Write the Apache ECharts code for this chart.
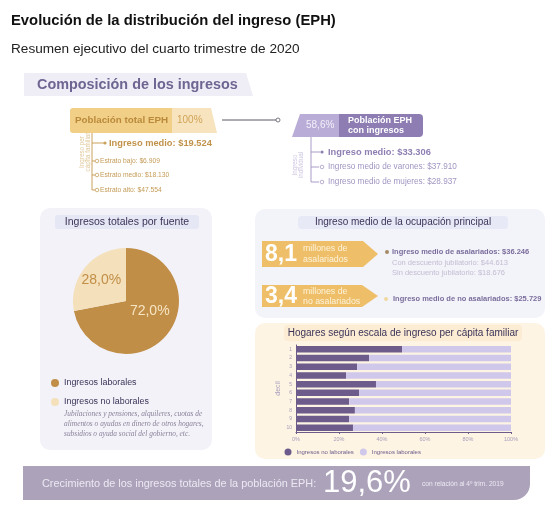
<!DOCTYPE html>
<html><head><meta charset="utf-8">
<script src="https://cdn.jsdelivr.net/npm/echarts@6/dist/echarts.min.js"></script>
<style>html,body{margin:0;padding:0;background:#fff}#c{width:555px;height:511px}</style>
</head><body><div id="c"></div>
<script>
// ---- data ----
const deciles = ['1','2','3','4','5','6','7','8','9','10'];
const noLaborales = [49.3, 34.0, 28.4, 23.3, 37.2, 29.3, 24.7, 27.4, 24.7, 26.5];
const laborales   = [50.7, 66.0, 71.6, 76.7, 62.8, 70.7, 75.3, 72.6, 75.3, 73.5];
const xTicks = [0, 20, 40, 60, 80, 100];
const pieNames = ['Ingresos laborales', 'Ingresos no laborales'];
const pieValues = [72.0, 28.0];

const F = '"Liberation Sans", Arial, sans-serif';
const SERIF = '"Liberation Serif", "DejaVu Serif", serif';
function txt(x, y, text, size, fill, opt) {
  opt = opt || {};
  return {type:'text', z: 10, x: opt.ex || 0, y: opt.ey || 0, rotation: opt.rot || 0,
    style:{x:x, y:y, text:text, fill:fill, font:(opt.style||'normal')+' '+(opt.weight||'normal')+' '+size+'px '+(opt.family||F),
      textAlign: opt.align||'left', textVerticalAlign: opt.va||'middle', lineHeight: opt.lh}};
}
function line(pts, stroke) { return {type:'polyline', z:6, shape:{points:pts}, style:{stroke:stroke, lineWidth:1, fill:null}}; }
function dot(x, y, r, fill, stroke) { return {type:'circle', z:7, shape:{cx:x, cy:y, r:r}, style:{fill:fill, stroke:stroke||null, lineWidth:0.8}}; }

const gold = '#c9a15c', purp = '#a99cc8';
const elements = [
  txt(11, 21, 'Evolución de la distribución del ingreso (EPH)', 14.8, '#111', {weight:'bold'}),
  txt(11, 49, 'Resumen ejecutivo del cuarto trimestre de 2020', 13.6, '#222'),
  // tab
  {type:'polygon', z:1, shape:{points:[[24,73],[246,73],[253,96],[24,96]]}, style:{fill:'#efeef6'}},
  txt(37, 85, 'Composición de los ingresos', 14.4, '#6f6592', {weight:'bold'}),
  // gold box
  {type:'rect', z:2, shape:{x:70, y:108, width:102, height:25, r:[3,0,0,3]}, style:{fill:'#f2cf86'}},
  {type:'polygon', z:2, shape:{points:[[172,108],[211,108],[217,133],[172,133]]}, style:{fill:'#f7e3bd'}},
  txt(75, 120.5, 'Población total EPH', 9.8, '#b98a3c', {weight:'bold'}),
  txt(177, 120.5, '100%', 10, '#d0a458'),
  line([[222,120],[276,120]], '#5c5866'),
  dot(278, 120, 2, '#fff', '#5c5866'),
  // purple box
  {type:'polygon', z:2, shape:{points:[[300,114],[339,114],[339,137],[292,137]]}, style:{fill:'#b9acd6'}},
  {type:'rect', z:2, shape:{x:339, y:114, width:84, height:23, r:[0,4,4,0]}, style:{fill:'#8d7db3'}},
  txt(306, 125.5, '58,6%', 10, '#f3effa'),
  txt(348, 120.5, 'Población EPH', 9, '#fff', {weight:'bold'}),
  txt(348, 130.5, 'con ingresos', 9, '#fff', {weight:'bold'}),
  // gold tree
  line([[92,133],[92,190],[95,190]], gold),
  line([[92,143],[104,143]], gold), dot(105, 143, 1.6, gold),
  line([[92,161],[95,161]], gold), dot(97, 161, 1.8, '#fff', gold),
  line([[92,175],[95,175]], gold), dot(97, 175, 1.8, '#fff', gold),
  dot(97, 190, 1.8, '#fff', gold),
  txt(109, 143, 'Ingreso medio: $19.524', 9.3, '#c0924a', {weight:'bold'}),
  txt(100, 161, 'Estrato bajo: $6.909', 6.7, '#c49b56'),
  txt(100, 175, 'Estrato medio: $18.130', 6.7, '#c49b56'),
  txt(100, 190, 'Estrato alto: $47.554', 6.7, '#c49b56'),
  txt(0, 0, 'Ingreso per\ncápita familiar', 6.3, '#e0c89a', {ex:85, ey:152, rot:Math.PI/2, align:'center', lh:6.3}),
  // purple tree
  line([[311,137],[311,182],[319,182]], purp),
  line([[311,152],[320,152]], purp), dot(322, 152, 1.6, '#8e7fb3'),
  line([[311,167],[319,167]], purp), dot(322, 167, 1.8, '#fff', purp),
  dot(322, 182, 1.8, '#fff', purp),
  txt(328, 152, 'Ingreso medio: $33.306', 9.3, '#8e7fb3', {weight:'bold'}),
  txt(328, 167, 'Ingreso medio de varones: $37.910', 8.2, '#a195c2'),
  txt(328, 182, 'Ingreso medio de mujeres: $28.937', 8.2, '#a195c2'),
  txt(0, 0, 'Ingreso\nindividual', 6.3, '#cdc5e0', {ex:298, ey:165, rot:Math.PI/2, align:'center', lh:6.3}),
  // left panel
  {type:'rect', z:0, shape:{x:40, y:208, width:172, height:242, r:10}, style:{fill:'#f3f2f8'}},
  {type:'rect', z:1, shape:{x:55, y:215, width:144, height:14, r:3}, style:{fill:'#e6e7f4'}},
  txt(127, 222, 'Ingresos totales por fuente', 10.5, '#3b3358', {align:'center'}),
  txt(64, 409, 'Jubilaciones y pensiones, alquileres, cuotas de\nalimentos o ayudas en dinero de otros hogares,\nsubsidios o ayuda social del gobierno, etc.', 7.4, '#8a819a', {family:SERIF, style:'italic', va:'top', lh:10}),
  // upper right panel
  {type:'rect', z:0, shape:{x:255, y:209, width:290, height:109, r:10}, style:{fill:'#f3f3fa'}},
  {type:'rect', z:1, shape:{x:298, y:216, width:210, height:13, r:4}, style:{fill:'#e7e9f6'}},
  txt(403, 222.5, 'Ingreso medio de la ocupación principal', 10, '#3b3358', {align:'center'}),
  {type:'polygon', z:2, shape:{points:[[262,241],[363,241],[378,254],[363,267],[262,267]]}, style:{fill:'#eebf68'}},
  txt(265, 255, '8,1', 23, '#fff', {weight:'bold'}),
  txt(303, 249, 'millones de', 8.8, '#fdf3dc'),
  txt(303, 260, 'asalariados', 8.8, '#fdf3dc'),
  {type:'polygon', z:2, shape:{points:[[262,285],[362,285],[378,296],[362,307],[262,307]]}, style:{fill:'#eebf68'}},
  txt(265, 297, '3,4', 23, '#fff', {weight:'bold'}),
  txt(303, 292, 'millones de', 8.8, '#fdf3dc'),
  txt(303, 302, 'no asalariados', 8.8, '#fdf3dc'),
  dot(387, 252, 2, '#a58b66'),
  txt(392, 252, 'Ingreso medio de asalariados: $36.246', 7.5, '#7b6e9c', {weight:'bold'}),
  txt(392, 263, 'Con descuento jubilatorio: $44.613', 7.5, '#c4bed2'),
  txt(392, 273, 'Sin descuento jubilatorio: $18.676', 7.5, '#c4bed2'),
  dot(386, 299, 2, '#f1d99f'),
  txt(393, 299, 'Ingreso medio de no asalariados: $25.729', 7.5, '#7b6e9c', {weight:'bold'}),
  // bottom panel
  {type:'rect', z:0, shape:{x:255, y:323, width:290, height:136, r:10}, style:{fill:'#fdf4e3'}},
  {type:'rect', z:1, shape:{x:284, y:325, width:238, height:16, r:4}, style:{fill:'#fbecd3'}},
  txt(403, 333, 'Hogares según escala de ingreso per cápita familiar', 10, '#3b3358', {align:'center'}),
  // banner
  {type:'rect', z:0, shape:{x:23, y:466, width:507, height:34, r:[0,0,16,0]}, style:{fill:'#aca3bb'}},
  txt(42, 484, 'Crecimiento de los ingresos totales de la población EPH:', 10.9, '#ece8f2'),
  txt(323, 483, '19,6%', 31, '#fff'),
  txt(422, 484, 'con relación al 4º trim. 2019', 6.6, '#ece8f2')
];

const chart = echarts.init(document.getElementById('c'), null, {renderer:'canvas'});
chart.setOption({
  animation: false,
  backgroundColor: '#fff',
  graphic: {elements: elements},
  legend: [
    {orient:'vertical', left:51, top:378.5, padding:0, itemGap:10, icon:'circle', itemWidth:8, itemHeight:8, selectedMode:false,
     textStyle:{fontFamily:F, fontSize:8.9, color:'#3b3358'},
     data:[{name:pieNames[0], itemStyle:{color:'#c08e47'}}, {name:pieNames[1], itemStyle:{color:'#f4e0bb'}}]},
    {orient:'horizontal', left:284.5, top:448.5, padding:0, itemGap:6, icon:'circle', itemWidth:7, itemHeight:7, selectedMode:false,
     textStyle:{fontFamily:F, fontSize:6, color:'#6c5b8b'},
     data:[{name:'Ingresos no laborales', itemStyle:{color:'#6c5b8b'}}, {name:'Ingresos laborales', itemStyle:{color:'#d0c8ea'}}]}
  ],
  grid: {left:296, right:44, top:345, bottom:79, containLabel:false},
  xAxis: {type:'value', min:xTicks[0], max:xTicks[xTicks.length-1], interval:20,
    axisLine:{show:true, lineStyle:{color:'#6c5b8b', width:1}},
    axisTick:{show:true, length:2, lineStyle:{color:'#6c5b8b'}},
    splitLine:{show:false},
    axisLabel:{formatter:'{value}%', fontSize:5.5, color:'#a79dbd', fontFamily:F, margin:4}},
  yAxis: {type:'category', data:deciles, inverse:true,
    name:'decil', nameLocation:'middle', nameGap:14, nameRotate:90,
    nameTextStyle:{fontSize:7, color:'#a79dbd', fontFamily:F},
    axisLine:{show:true, lineStyle:{color:'#6c5b8b', width:1}},
    axisTick:{show:false},
    axisLabel:{fontSize:5, color:'#a79dbd', fontFamily:F, margin:4}},
  series: [
    {type:'pie', name:'fuente', center:[126,301], radius:53, startAngle:90, clockwise:true, z:3,
     label:{show:true, position:'inside', fontFamily:F, fontSize:14,
       formatter: p => p.value.toFixed(1).replace('.', ',') + '%'},
     labelLayout: p => p.dataIndex === 0 ? {dx:1, dy:-9} : {dx:-2, dy:-2},
     labelLine:{show:false}, emphasis:{disabled:true},
     data:[
       {name:pieNames[0], value:pieValues[0], itemStyle:{color:'#c08e47'}, label:{color:'#f6e4c2'}},
       {name:pieNames[1], value:pieValues[1], itemStyle:{color:'#f4e0bb'}, label:{color:'#c08e47'}}
     ]},
    {type:'bar', name:'Ingresos no laborales', stack:'s', data:noLaborales, barWidth:'75%', itemStyle:{color:'#6c5b8b'}, z:3},
    {type:'bar', name:'Ingresos laborales', stack:'s', data:laborales, barWidth:'75%', itemStyle:{color:'#d0c8ea'}, z:3}
  ]
});
</script></body></html>
